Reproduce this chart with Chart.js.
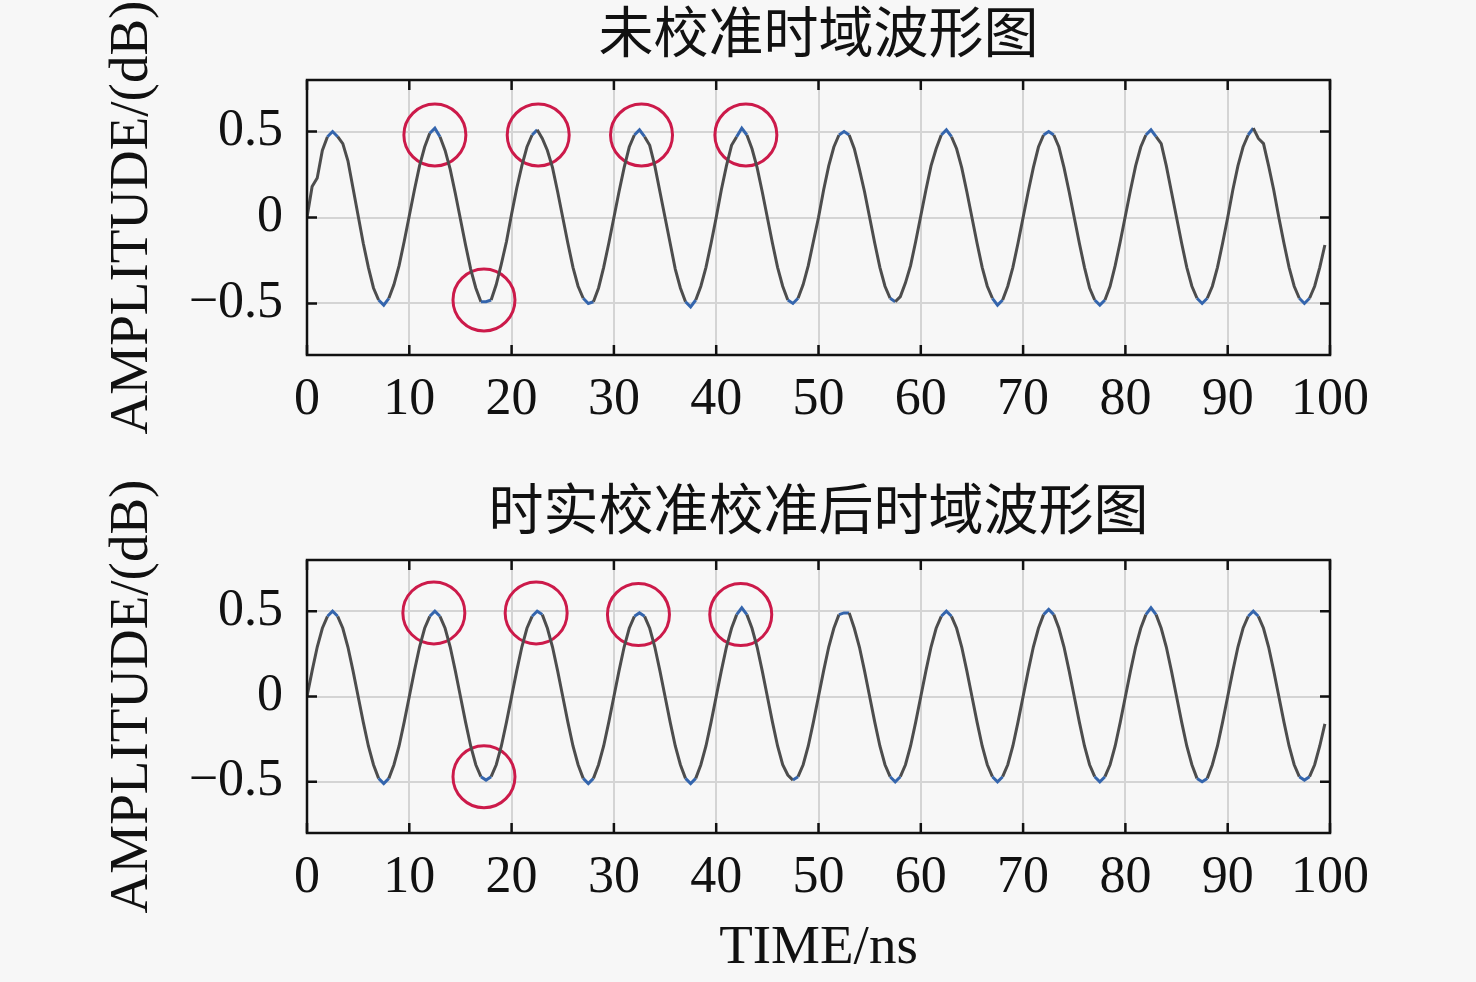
<!DOCTYPE html>
<html>
<head>
<meta charset="utf-8">
<script src="https://cdn.jsdelivr.net/npm/chart.js@4.4.0/dist/chart.umd.min.js"></script>
<style>
  body { margin: 0; background: #f7f7f7; width: 1476px; height: 982px; overflow: hidden; }
  .box { position: absolute; left: 0; width: 1476px; }
</style>
</head>
<body>
<div class="box" style="top:0;height:470px"><canvas id="rawChart"></canvas></div>
<div class="box" style="top:470px;height:512px"><canvas id="calChart"></canvas></div>
<script>
// sample times (ns)
const timeNs = [
  0,0.5,1,1.5,2,2.5,3,3.5,4,4.5,5,5.5,6,6.5,7,7.5,8,8.5,9,9.5,
  10,10.5,11,11.5,12,12.5,13,13.5,14,14.5,15,15.5,16,16.5,17,17.5,18,18.5,19,19.5,
  20,20.5,21,21.5,22,22.5,23,23.5,24,24.5,25,25.5,26,26.5,27,27.5,28,28.5,29,29.5,
  30,30.5,31,31.5,32,32.5,33,33.5,34,34.5,35,35.5,36,36.5,37,37.5,38,38.5,39,39.5,
  40,40.5,41,41.5,42,42.5,43,43.5,44,44.5,45,45.5,46,46.5,47,47.5,48,48.5,49,49.5,
  50,50.5,51,51.5,52,52.5,53,53.5,54,54.5,55,55.5,56,56.5,57,57.5,58,58.5,59,59.5,
  60,60.5,61,61.5,62,62.5,63,63.5,64,64.5,65,65.5,66,66.5,67,67.5,68,68.5,69,69.5,
  70,70.5,71,71.5,72,72.5,73,73.5,74,74.5,75,75.5,76,76.5,77,77.5,78,78.5,79,79.5,
  80,80.5,81,81.5,82,82.5,83,83.5,84,84.5,85,85.5,86,86.5,87,87.5,88,88.5,89,89.5,
  90,90.5,91,91.5,92,92.5,93,93.5,94,94.5,95,95.5,96,96.5,97,97.5,98,98.5,99,99.5
]

// uncalibrated waveform
const rawAmp = [
  0.00,0.18,0.23,0.39,0.47,0.50,0.47,0.43,0.33,0.17,0.01,-0.15,-0.29,-0.41,-0.48,-0.51,-0.47,-0.39,-0.28,-0.14,
  0.01,0.16,0.30,0.41,0.49,0.52,0.47,0.39,0.28,0.14,-0.01,-0.16,-0.30,-0.41,-0.49,-0.49,-0.48,-0.39,-0.27,-0.14,
  0.02,0.17,0.30,0.41,0.48,0.51,0.46,0.39,0.29,0.15,0.00,-0.15,-0.29,-0.40,-0.47,-0.50,-0.49,-0.41,-0.29,-0.15,
  0.00,0.15,0.29,0.41,0.48,0.51,0.47,0.42,0.30,0.15,0.00,-0.15,-0.30,-0.41,-0.49,-0.52,-0.48,-0.40,-0.29,-0.15,
  0.00,0.16,0.30,0.42,0.47,0.52,0.48,0.40,0.29,0.15,0.00,-0.15,-0.29,-0.40,-0.48,-0.50,-0.47,-0.39,-0.28,-0.14,
  0.00,0.16,0.30,0.41,0.48,0.50,0.48,0.40,0.28,0.15,0.00,-0.15,-0.29,-0.40,-0.47,-0.49,-0.46,-0.38,-0.28,-0.14,
  0.01,0.16,0.30,0.40,0.48,0.51,0.47,0.40,0.29,0.15,0.00,-0.15,-0.29,-0.40,-0.47,-0.51,-0.48,-0.40,-0.29,-0.15,
  0.00,0.15,0.29,0.41,0.48,0.50,0.48,0.41,0.29,0.15,0.00,-0.15,-0.29,-0.41,-0.48,-0.51,-0.48,-0.40,-0.28,-0.14,
  0.01,0.16,0.30,0.41,0.48,0.51,0.47,0.43,0.30,0.15,0.00,-0.15,-0.29,-0.40,-0.47,-0.50,-0.47,-0.40,-0.29,-0.15,
  0.00,0.16,0.30,0.41,0.48,0.52,0.46,0.43,0.30,0.16,0.00,-0.15,-0.29,-0.40,-0.47,-0.50,-0.47,-0.40,-0.29,-0.16
]

// after real-time calibration
const calAmp = [
  0.00,0.15,0.29,0.40,0.47,0.50,0.47,0.40,0.29,0.15,0.00,-0.15,-0.29,-0.40,-0.48,-0.51,-0.48,-0.40,-0.29,-0.15,
  0.00,0.15,0.29,0.40,0.47,0.50,0.47,0.40,0.29,0.15,0.00,-0.15,-0.29,-0.40,-0.47,-0.49,-0.47,-0.40,-0.29,-0.15,
  0.00,0.15,0.29,0.40,0.47,0.50,0.48,0.40,0.29,0.15,0.00,-0.15,-0.29,-0.40,-0.48,-0.51,-0.48,-0.40,-0.29,-0.15,
  0.00,0.15,0.29,0.40,0.47,0.49,0.47,0.40,0.29,0.15,0.00,-0.15,-0.29,-0.40,-0.48,-0.51,-0.48,-0.40,-0.29,-0.15,
  0.00,0.15,0.29,0.40,0.48,0.52,0.48,0.40,0.29,0.15,0.00,-0.15,-0.29,-0.40,-0.46,-0.49,-0.47,-0.40,-0.29,-0.15,
  0.00,0.15,0.29,0.40,0.48,0.49,0.49,0.40,0.29,0.15,0.00,-0.15,-0.29,-0.40,-0.47,-0.50,-0.47,-0.40,-0.29,-0.15,
  0.00,0.15,0.29,0.40,0.47,0.50,0.47,0.40,0.29,0.15,0.00,-0.15,-0.29,-0.40,-0.47,-0.50,-0.47,-0.40,-0.29,-0.15,
  0.00,0.15,0.29,0.40,0.48,0.51,0.48,0.40,0.29,0.15,0.00,-0.15,-0.29,-0.40,-0.47,-0.50,-0.47,-0.40,-0.29,-0.15,
  0.00,0.15,0.29,0.40,0.48,0.52,0.48,0.40,0.29,0.15,0.00,-0.15,-0.29,-0.40,-0.48,-0.50,-0.48,-0.40,-0.29,-0.15,
  0.00,0.15,0.29,0.40,0.47,0.50,0.47,0.40,0.29,0.15,0.00,-0.15,-0.29,-0.40,-0.47,-0.49,-0.47,-0.40,-0.29,-0.16
]

// red circle marks
const rawMarkX = [12.5, 22.6, 32.7, 42.9, 17.3]
const rawMarkY = [0.48, 0.48, 0.48, 0.48, -0.48]
const calMarkX = [12.4, 22.4, 32.4, 42.4, 17.3]
const calMarkY = [0.49, 0.49, 0.48, 0.48, -0.47]

const xTickValues = [0, 10, 20, 30, 40, 50, 60, 70, 80, 90, 100]
const yTickValues = [-0.5, 0, 0.5]
const yTickLabels = ['\u22120.5', '0', '0.5']

const serif = "'Liberation Serif', 'Times New Roman', serif"

const frame = {
  id: 'frame',
  afterDraw(chart) {
    const {ctx, chartArea: a, scales} = chart
    ctx.save()
    ctx.strokeStyle = '#111'
    ctx.lineWidth = 2.5
    ctx.beginPath()
    xTickValues.forEach(v => {
      const px = scales.x.getPixelForValue(v)
      ctx.moveTo(px, a.bottom); ctx.lineTo(px, a.bottom - 10)
      ctx.moveTo(px, a.top); ctx.lineTo(px, a.top + 10)
    })
    yTickValues.forEach(v => {
      const py = scales.y.getPixelForValue(v)
      ctx.moveTo(a.left, py); ctx.lineTo(a.left + 10, py)
      ctx.moveTo(a.right, py); ctx.lineTo(a.right - 10, py)
    })
    ctx.stroke()
    ctx.strokeRect(a.left, a.top, a.right - a.left, a.bottom - a.top)
    ctx.restore()
  }
}

function makeChart(id, title, amp, markX, markY, opt) {
  const wave = timeNs.map((t, i) => ({x: t, y: amp[i]}))
  const marks = markX.map((x, i) => ({x: x, y: markY[i]}))
  return new Chart(document.getElementById(id), {
    type: 'scatter',
    data: {
      datasets: [{
        data: wave,
        showLine: true,
        pointRadius: 0,
        borderColor: '#4d4d4d',
        borderWidth: 3,
        segment: {
          borderColor: c => (Math.abs(c.p0.parsed.y) >= 0.47 && Math.abs(c.p1.parsed.y) >= 0.47) ? '#3465ad' : undefined
        }
      }, {
        data: marks,
        pointRadius: 31,
        pointBorderWidth: 3,
        pointBorderColor: '#cc1a4a',
        pointBackgroundColor: 'rgba(0,0,0,0)'
      }]
    },
    options: {
      responsive: true,
      maintainAspectRatio: false,
      animation: false,
      events: [],
      layout: { padding: { left: 0, right: 146, top: 0, bottom: 0 } },
      plugins: {
        legend: { display: false },
        tooltip: { enabled: false },
        title: {
          display: true,
          fullSize: false,
          text: title,
          color: '#111',
          font: { family: "'Liberation Serif', 'Noto Sans CJK SC'", size: 55, weight: 'normal' },
          padding: opt.titlePad
        }
      },
      scales: {
        x: {
          type: 'linear',
          min: 0,
          max: 100,
          afterBuildTicks: s => { s.ticks = xTickValues.map(v => ({value: v})) },
          afterFit: s => { s.height = opt.xHeight },
          grid: { color: '#d4d4d4', lineWidth: 2, drawTicks: false },
          border: { display: false },
          ticks: { color: '#111', padding: 14, maxRotation: 0, autoSkip: false,
                   font: { family: serif, size: 52 } },
          title: {
            display: opt.xTitle,
            text: 'TIME/ns',
            color: '#111',
            font: { family: serif, size: 55 },
            padding: { top: 0, bottom: 0 }
          }
        },
        y: {
          min: -0.8,
          max: 0.8,
          afterBuildTicks: s => { s.ticks = yTickValues.map(v => ({value: v})) },
          afterFit: s => { s.width = 307 },
          grid: { color: '#d4d4d4', lineWidth: 2, drawTicks: false },
          border: { display: false },
          ticks: { color: '#111', padding: 24,
                   font: { family: serif, size: 52 },
                   callback: (v, i) => yTickLabels[yTickValues.indexOf(v)] },
          title: {
            display: true,
            text: 'AMPLITUDE/(dB)',
            color: '#111',
            font: { family: serif, size: 55 },
            padding: { top: 100, bottom: 0 }
          }
        }
      }
    },
    plugins: [frame]
  })
}

makeChart('rawChart', '未校准时域波形图', rawAmp, rawMarkX, rawMarkY,
  { titlePad: { top: 5, bottom: 9 }, xHeight: 115, xTitle: false })
makeChart('calChart', '时实校准校准后时域波形图', calAmp, calMarkX, calMarkY,
  { titlePad: { top: 12, bottom: 12 }, xHeight: 149, xTitle: true })
</script>
</body>
</html>
